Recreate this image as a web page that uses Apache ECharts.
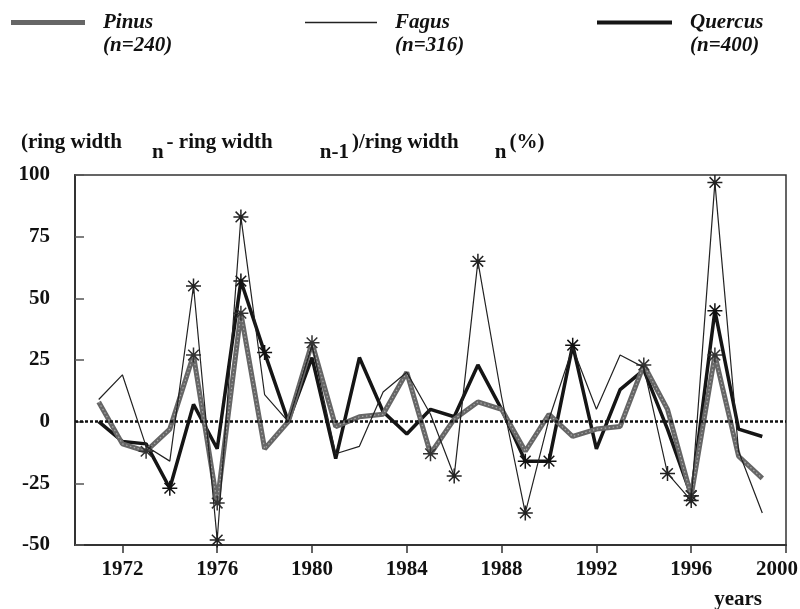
<!DOCTYPE html>
<html>
<head>
<meta charset="utf-8">
<script src="https://cdn.jsdelivr.net/npm/echarts@6/dist/echarts.min.js"></script>
<style>
    html, body { margin: 0; padding: 0; background: #fff; }
    #chart { width: 800px; height: 609px; }
</style>
</head>
<body>
<div id="chart"></div>
<script>
// ring width change per year
const years = [1971, 1972, 1973, 1974, 1975, 1976, 1977, 1978, 1979, 1980,
    1981, 1982, 1983, 1984, 1985, 1986, 1987, 1988, 1989, 1990,
    1991, 1992, 1993, 1994, 1995, 1996, 1997, 1998, 1999]
const pinus = [8, -9, -12, -3, 27, -33, 44, -11, 0, 32,
    -2, 2, 3, 20, -13, 1, 8, 5, -12, 3,
    -6, -3, -2, 23, 5, -30, 27, -14, -23]
const fagus = [9, 19, -10, -16, 55, -48, 83, 11, 0, 31,
    -13, -10, 12, 20, 3, -22, 65, 10, -37, 1,
    30, 5, 27, 22, -21, -32, 97, -12, -37]
const quercus = [0, -8, -9, -27, 7, -11, 57, 28, 0, 26,
    -15, 26, 4, -5, 5, 2, 23, 5, -16, -16,
    31, -11, 13, 21, -3, -30, 45, -3, -6]
// pointer years (marked with an asterisk)
const pinusStars = [1973, 1975, 1976, 1977, 1980, 1985, 1994, 1996, 1997]
const fagusStars = [1975, 1976, 1977, 1986, 1987, 1989, 1995, 1996, 1997]
const quercusStars = [1974, 1977, 1978, 1989, 1990, 1991, 1996, 1997]
const xTicks = [1972, 1976, 1980, 1984, 1988, 1992, 1996, 2000]

const serif = 'Liberation Serif'
const asterisk = 'path://M-0.8,-8L0.8,-8L0.8,8L-0.8,8Z' +
    'M-8,-0.8L8,-0.8L8,0.8L-8,0.8Z' +
    'M-5.09,-6.22L6.22,5.09L5.09,6.22L-6.22,-5.09Z' +
    'M-6.22,5.09L5.09,-6.22L6.22,-5.09L-5.09,6.22Z'

// legend line sitting level with the first text line (box is 46 high)
const legendBar = (w, top, h) => 'path://M0,0L0.01,0M0,46L0.01,46' +
    'M0,' + top + 'H' + w + 'V' + (top + h) + 'H0Z'

const buildData = (values, stars, starColor) => {
    return values.map((v, i) => {
        const item = { value: [years[i], v] }
        if (stars.indexOf(years[i]) >= 0) {
            item.symbol = asterisk
            item.symbolSize = 15
            item.itemStyle = { color: starColor }
        }
        return item
    })
}

const chartInstance = echarts.init(document.getElementById('chart'))

const legendText = {
    color: '#111',
    fontFamily: serif,
    fontWeight: 'bold',
    fontStyle: 'italic',
    fontSize: 21,
    lineHeight: 23,
    padding: [0, 0, 0, 13]
}

const subStyle = (left) => ({
    color: '#111',
    fontFamily: serif,
    fontWeight: 'bold',
    fontSize: 21,
    padding: [20, 3, 0, left]
})

const option = {
    animation: false,
    backgroundColor: '#fff',
    title: {
        left: 16,
        top: 117,
        text: '(ring width{s1|n}- ring width{s2|n-1})/ring width{s3|n}(%)',
        textStyle: {
            color: '#111',
            fontFamily: serif,
            fontWeight: 'bold',
            fontSize: 21,
            rich: {
                s1: subStyle(30),
                s2: subStyle(47),
                s3: subStyle(36)
            }
        }
    },
    legend: [
        {
            left: 11, top: 11, padding: 0, itemWidth: 74, itemHeight: 46,
            icon: legendBar(74, 9, 5),
            data: ['Pinus'],
            formatter: () => 'Pinus\n(n=240)',
            textStyle: legendText
        },
        {
            left: 305, top: 11, padding: 0, itemWidth: 72, itemHeight: 46,
            icon: legendBar(72, 10.8, 1.4),
            data: ['Fagus'],
            formatter: () => 'Fagus\n(n=316)',
            textStyle: legendText
        },
        {
            left: 597, top: 11, padding: 0, itemWidth: 75, itemHeight: 46,
            icon: legendBar(75, 9.5, 4),
            data: ['Quercus'],
            formatter: () => 'Quercus\n(n=400)',
            textStyle: legendText
        }
    ],
    grid: {
        left: 75,
        right: 14,
        top: 175,
        bottom: 64,
        outerBoundsMode: 'none',
        show: true,
        borderColor: '#333',
        borderWidth: 1.5
    },
    xAxis: {
        type: 'value',
        min: 1970,
        max: 2000,
        name: 'years',
        nameLocation: 'end',
        nameGap: -24,
        nameTextStyle: {
            color: '#111',
            fontFamily: serif,
            fontWeight: 'bold',
            fontSize: 21,
            align: 'right',
            verticalAlign: 'top',
            padding: [44, 0, 0, 0]
        },
        axisLine: { onZero: false, lineStyle: { color: '#333', width: 2 } },
        axisTick: { customValues: xTicks, length: 8, lineStyle: { color: '#333', width: 1.5 } },
        axisLabel: {
            customValues: xTicks,
            // last label is nudged left so it stays inside the page
            formatter: v => v === 2000 ? '{e|2000}' : String(v),
            color: '#111',
            fontFamily: serif,
            fontWeight: 'bold',
            fontSize: 21,
            margin: 14,
            rich: {
                e: {
                    color: '#111',
                    fontFamily: serif,
                    fontWeight: 'bold',
                    fontSize: 21,
                    padding: [0, 18, 0, 0]
                }
            }
        },
        splitLine: { show: false }
    },
    yAxis: {
        type: 'value',
        min: -50,
        max: 100,
        interval: 25,
        axisLine: { show: true, lineStyle: { color: '#333', width: 2 } },
        axisTick: { show: true, inside: true, length: 9, lineStyle: { color: '#555', width: 1.5 } },
        axisLabel: {
            color: '#111',
            fontFamily: serif,
            fontWeight: 'bold',
            fontSize: 21,
            margin: 25
        },
        splitLine: { show: false }
    },
    series: [
        {
            name: 'Quercus',
            type: 'line',
            z: 2,
            color: '#151515',
            symbol: 'none',
            data: buildData(quercus, quercusStars, '#111'),
            lineStyle: { color: '#151515', width: 3.5 },
            markLine: {
                silent: true,
                symbol: 'none',
                label: { show: false },
                lineStyle: { color: '#111', width: 2.5, type: [3, 2] },
                data: [{ yAxis: 0 }]
            }
        },
        {
            name: 'Pinus',
            type: 'line',
            z: 3,
            color: '#666',
            symbol: 'none',
            data: buildData(pinus, pinusStars, '#333'),
            lineStyle: { color: '#666', width: 5 }
        },
        {
            // light dotted fringe along the Pinus line
            name: 'Pinus dots',
            type: 'line',
            z: 3,
            symbol: 'none',
            silent: true,
            data: years.map((y, i) => [y, pinus[i]]),
            lineStyle: { color: '#a8a8a8', width: 1.2, type: [1.5, 2.5] }
        },
        {
            name: 'Fagus',
            type: 'line',
            z: 4,
            color: '#222',
            symbol: 'none',
            data: buildData(fagus, fagusStars, '#222'),
            lineStyle: { color: '#222', width: 1.2 }
        }
    ]
}

chartInstance.setOption(option)
</script>
</body>
</html>
